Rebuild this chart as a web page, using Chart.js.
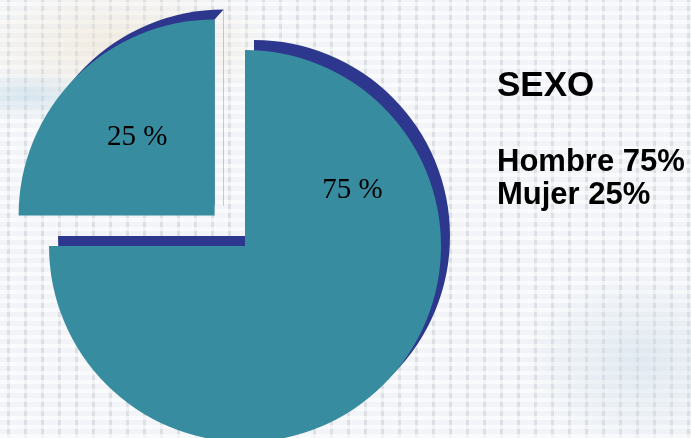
<!DOCTYPE html>
<html>
<head>
<meta charset="utf-8">
<script src="https://cdn.jsdelivr.net/npm/chart.js@4"></script>
<style>
  html, body { margin: 0; padding: 0; }
  body {
    width: 691px; height: 438px; overflow: hidden; position: relative;
    background-color: #f2f4f7;
    background-image:
      radial-gradient(ellipse 160px 60px at 120px 45px, rgba(238,226,205,0.55), rgba(238,226,205,0) 100%),
      radial-gradient(ellipse 90px 25px at 30px 95px, rgba(190,215,230,0.55), rgba(190,215,230,0) 100%),
      radial-gradient(ellipse 120px 90px at 640px 360px, rgba(205,220,232,0.5), rgba(205,220,232,0) 100%),
      repeating-linear-gradient(0deg, rgba(255,255,255,0.6) 0px, rgba(255,255,255,0.6) 4px, rgba(255,255,255,0) 4px, rgba(255,255,255,0) 9px),
      repeating-linear-gradient(90deg, rgba(255,255,255,0) 0px, rgba(255,255,255,0) 7px, rgba(150,156,168,0.24) 7px, rgba(150,156,168,0.24) 10px, rgba(255,255,255,0) 10px, rgba(255,255,255,0) 17px);
  }
  #chart { position: absolute; left: 0; top: 0; }
  .txt { position: absolute; left: 497px; font-family: "Liberation Sans", Arial, sans-serif; font-weight: bold; color: #000; white-space: nowrap; }
  #title { top: 66px; font-size: 35px; line-height: 35px; }
  #legend { top: 144px; font-size: 31px; line-height: 33px; }
</style>
</head>
<body>
<canvas id="chart" width="691" height="438"></canvas>
<div class="txt" id="title">SEXO</div>
<div class="txt" id="legend">Hombre 75%<br>Mujer 25%</div>
<script>
const categories = ['Hombre', 'Mujer'];
const values = [75, 25];
const sliceLabels = ['75 %', '25 %'];

const TEAL = '#388ca0';
const DARK = '#2d378e';

const shadowPlugin = {
  id: 'shadow3d',
  beforeDatasetsDraw(chart, args, opts) {
    const ctx = chart.ctx;
    const meta = chart.getDatasetMeta(0);
    const dx = opts.dx, dy = opts.dy;
    meta.data.forEach((arc, i) => {
      const p = arc.getProps(['x', 'y', 'startAngle', 'endAngle', 'outerRadius'], true);
      const off = (arc.options.offset || 0) / 4;
      const mid = (p.startAngle + p.endAngle) / 2;
      const cx = p.x + Math.cos(mid) * off;
      const cy = p.y + Math.sin(mid) * off;
      ctx.save();
      if (opts.hideEndEdge[i]) {
        const ex = cx + Math.cos(p.endAngle) * p.outerRadius;
        const ey = cy + Math.sin(p.endAngle) * p.outerRadius;
        ctx.beginPath();
        ctx.rect(-50, -50, chart.width + 100, chart.height + 100);
        ctx.moveTo(cx, cy);
        ctx.lineTo(cx + dx, cy + dy);
        ctx.lineTo(ex + dx, ey + dy);
        ctx.lineTo(ex, ey);
        ctx.closePath();
        ctx.clip('evenodd');
      }
      ctx.translate(dx, dy);
      const saved = arc.options;
      arc.options = Object.assign({}, saved, { backgroundColor: opts.color, borderColor: opts.color, borderWidth: 0 });
      arc.draw(ctx);
      arc.options = saved;
      ctx.restore();
    });
  }
};

const labelPlugin = {
  id: 'sliceLabels',
  afterDatasetsDraw(chart, args, opts) {
    const ctx = chart.ctx;
    const meta = chart.getDatasetMeta(0);
    ctx.save();
    ctx.font = opts.font;
    ctx.fillStyle = '#000';
    ctx.textAlign = 'center';
    ctx.textBaseline = 'alphabetic';
    meta.data.forEach((arc, i) => {
      const p = arc.getProps(['x', 'y', 'startAngle', 'endAngle', 'outerRadius'], true);
      const off = (arc.options.offset || 0) / 4;
      const mid = (p.startAngle + p.endAngle) / 2;
      const cx = p.x + Math.cos(mid) * off;
      const cy = p.y + Math.sin(mid) * off;
      const pos = opts.pos[i];
      ctx.fillText(sliceLabels[i], cx + pos[0] * p.outerRadius, cy + pos[1] * p.outerRadius);
    });
    ctx.restore();
  }
};

new Chart(document.getElementById('chart'), {
  type: 'pie',
  data: {
    labels: categories,
    datasets: [{
      data: values,
      backgroundColor: [TEAL, TEAL],
      borderWidth: 0,
      offset: [0, 172],
      hoverOffset: 0,
      clip: false
    }]
  },
  options: {
    responsive: false,
    animation: false,
    events: [],
    radius: 196,
    layout: { padding: { left: 0, right: 201, top: 54, bottom: 0 } },
    plugins: {
      legend: { display: false },
      tooltip: { enabled: false },
      title: { display: false },
      shadow3d: { dx: 9, dy: -10, color: DARK, hideEndEdge: [false, true] },
      sliceLabels: { font: '29px "Liberation Serif", "Times New Roman", serif', pos: [[0.548, -0.245], [-0.395, -0.36]] }
    }
  },
  plugins: [shadowPlugin, labelPlugin]
});
</script>
</body>
</html>
